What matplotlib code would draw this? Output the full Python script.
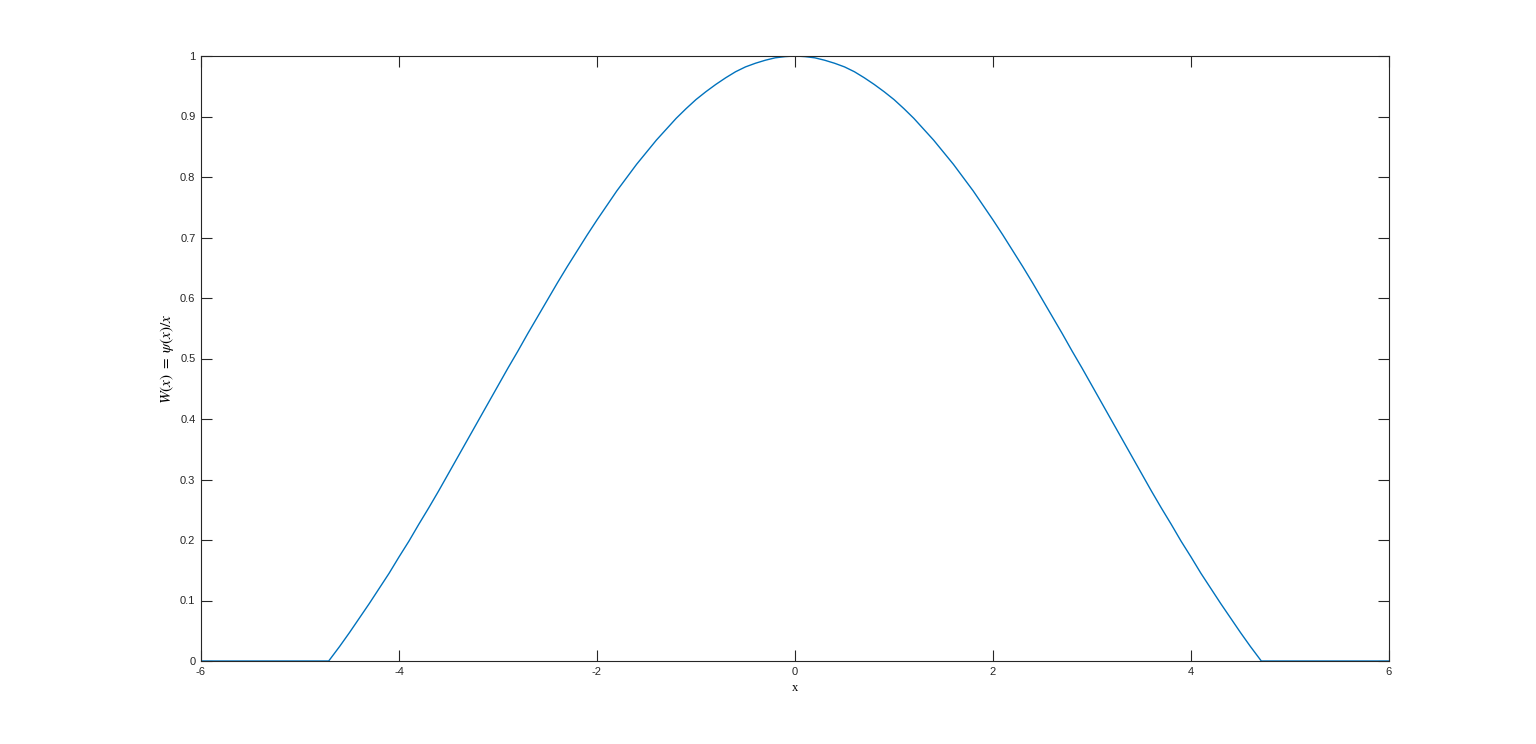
import numpy as np
import matplotlib
matplotlib.use("Agg")
import matplotlib.pyplot as plt

# values (symmetric about x = 0)
x_right = [0.0, 0.1, 0.2, 0.3, 0.4, 0.5, 0.6, 0.7, 0.8, 0.9,
           1.0, 1.1, 1.2, 1.3, 1.4, 1.5, 1.6, 1.7, 1.8, 1.9,
           2.0, 2.1, 2.2, 2.3, 2.4, 2.5, 2.6, 2.7, 2.8, 2.9,
           3.0, 3.1, 3.2, 3.3, 3.4, 3.5, 3.6, 3.7, 3.8, 3.9,
           4.0, 4.1, 4.2, 4.3, 4.4, 4.5, 4.6, 4.71, 6.0]
w_right = [1.000, 0.999, 0.997, 0.993, 0.988, 0.982, 0.974, 0.964, 0.953, 0.941,
           0.928, 0.913, 0.897, 0.879, 0.861, 0.841, 0.821, 0.799, 0.777, 0.753,
           0.729, 0.704, 0.678, 0.652, 0.625, 0.597, 0.569, 0.541, 0.512, 0.484,
           0.455, 0.426, 0.397, 0.368, 0.339, 0.310, 0.281, 0.253, 0.226, 0.198,
           0.172, 0.145, 0.120, 0.095, 0.071, 0.047, 0.024, 0.0, 0.0]

x_vals = [-v for v in x_right[:0:-1]] + x_right
w_vals = w_right[:0:-1] + w_right

x_ticks = [-6, -4, -2, 0, 2, 4, 6]
y_ticks = [0, 0.1, 0.2, 0.3, 0.4, 0.5, 0.6, 0.7, 0.8, 0.9, 1]

plt.rcParams["font.family"] = ["Liberation Sans", "DejaVu Sans"]
plt.rcParams["mathtext.fontset"] = "stix"

fig = plt.figure(figsize=(15.36, 7.44), dpi=100)
ax = fig.add_axes([201 / 1536, 83 / 744, 1188 / 1536, 605 / 744])

ax.plot(x_vals, w_vals, color="#0072BD", linewidth=1.0)

ax.set_xlim(-6, 6)
ax.set_ylim(0, 1)
ax.set_xticks(x_ticks)
ax.set_xticklabels([str(t) for t in x_ticks])
ax.set_yticks(y_ticks)
ax.set_yticklabels(["0", "0.1", "0.2", "0.3", "0.4", "0.5", "0.6", "0.7", "0.8", "0.9", "1"])

ax.tick_params(direction="in", length=8, width=0.8, top=True, right=True,
               labelsize=8, colors="#262626", pad=4)
for s in ax.spines.values():
    s.set_linewidth(0.8)
    s.set_color("#262626")

ax.set_xlabel("x", family="Liberation Serif", fontsize=9, labelpad=4)
ax.set_ylabel(r"$W(x)\ =\ \psi(x)/x$", fontsize=11, labelpad=3)

fig.savefig("out.png", dpi=100)
